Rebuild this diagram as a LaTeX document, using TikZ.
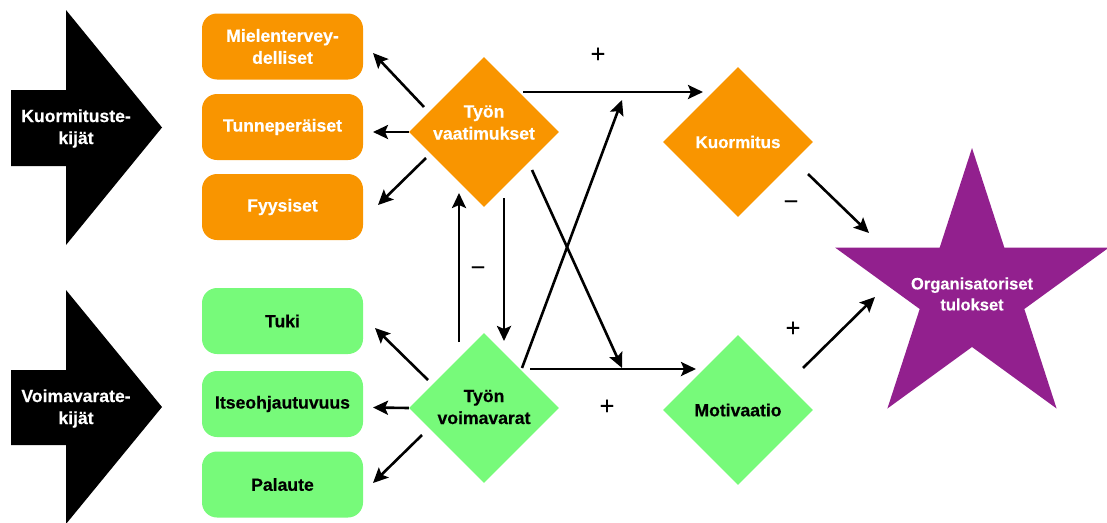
\documentclass[tikz,border=0pt]{standalone}
\usepackage{fontspec}
\setmainfont{Liberation Sans}[FakeBold=0.4]
\usetikzlibrary{arrows.meta,shapes.geometric}
\definecolor{dorange}{HTML}{F99500}
\definecolor{dgreen}{HTML}{77FA7A}
\definecolor{dpurple}{HTML}{92208E}
\begin{document}
\begin{tikzpicture}[x=1pt,y=-1pt,
  txt/.style={font=\fontsize{17.6}{22}\selectfont\bfseries, align=center, inner sep=0pt},
  box/.style={txt, rounded corners=15pt, minimum width=161pt, minimum height=66pt},
  obox/.style={box, fill=dorange, text=white},
  gbox/.style={box, fill=dgreen, text=black},
  dia/.style={diamond, minimum width=150pt, minimum height=150pt, inner sep=0pt},
  arr/.style={line width=2.6pt, -{Stealth[length=15pt,width=14pt,inset=3pt]}},
  sign/.style={font=\fontsize{25}{28}\selectfont, inner sep=0pt}]
\useasboundingbox (0,0) rectangle (1107,522);

% big input arrows
\fill[black] (11,90) -- (66,90) -- (66,10) -- (162,127.5) -- (66,245) -- (66,166) -- (11,166) -- cycle;
\node[txt, text=white] (kuormtekijat) at (76,128.5) {Kuormituste-\\kijät};
\fill[black] (11,370) -- (66,370) -- (66,290) -- (162,407) -- (66,524) -- (66,445) -- (11,445) -- cycle;
\node[txt, text=white] (voimtekijat) at (76,408.5) {Voimavarate-\\kijät};

% demand and resource categories
\node[obox] (mental) at (282.5,46.5) {Mielentervey-\\delliset};
\node[obox] (tunne) at (282.5,127) {Tunneperäiset};
\node[obox] (fyys) at (282.5,207) {Fyysiset};
\node[gbox] (tuki) at (282.5,321) {Tuki};
\node[gbox] (itse) at (282.5,404) {Itseohjautuvuus};
\node[gbox] (pal) at (282.5,484.5) {Palaute};

% diamonds
\node[dia, fill=dorange] (vaat) at (484,132) {};
\node[txt, text=white] (vaattxt) at (484,122.5) {Työn\\vaatimukset};
\node[dia, fill=dgreen] (voim) at (484,408) {};
\node[txt, text=black] (voimtxt) at (484,407) {Työn\\voimavarat};
\node[dia, fill=dorange] (kuorm) at (738,142) {};
\node[txt, text=white, font=\fontsize{17}{21}\selectfont\bfseries] (kuormtxt) at (738,142) {Kuormitus};
\node[dia, fill=dgreen] (motiv) at (738,410) {};
\node[txt, text=black] (motivtxt) at (738,410) {Motivaatio};

% outcome star
\fill[dpurple] (972,148) -- (1004.3,247.5) -- (1109,247.5) -- (1024.3,309) -- (1056.6,408.5)
  -- (972,347) -- (887.4,408.5) -- (919.7,309) -- (835,247.5) -- (939.7,247.5) -- cycle;
\node[txt, text=white, font=\fontsize{16.5}{21}\selectfont\bfseries] (tulos) at (972,294) {Organisatoriset\\tulokset};

% connector end points
\coordinate (m1) at (424,107);  \coordinate (m2) at (373,53);
\coordinate (t2) at (373,132);
\coordinate (f1) at (426,158);  \coordinate (f2) at (378,205);
\coordinate (k1) at (428,380);  \coordinate (k2) at (375,328);
\coordinate (i2) at (373,407.5);
\coordinate (p1) at (422,435);  \coordinate (p2) at (373,483);
\coordinate (u1) at (459,342);  \coordinate (u2) at (459,193);
\coordinate (d1) at (504,198);  \coordinate (d2) at (504,341);
\coordinate (h1) at (523,92);   \coordinate (h2) at (703,92);
\coordinate (g1) at (530,369);  \coordinate (g2) at (696,369);
\coordinate (x1) at (522,368);  \coordinate (x2) at (622,100);
\coordinate (y1) at (532,170);  \coordinate (y2) at (622,368);
\coordinate (s1) at (808,174);  \coordinate (s2) at (869,233);
\coordinate (r1) at (803,368);  \coordinate (r2) at (875,297);

% connectors
\draw[arr] (m1) -- (m2);
\draw[arr] (vaat.west) -- (t2);
\draw[arr] (f1) -- (f2);
\draw[arr] (k1) -- (k2);
\draw[arr] (voim.west) -- (i2);
\draw[arr] (p1) -- (p2);
\draw[arr] (u1) -- (u2);
\draw[arr] (d1) -- (d2);
\draw[arr] (h1) -- (h2);
\draw[arr] (g1) -- (g2);
\draw[arr] (x1) -- (x2);
\draw[arr] (y1) -- (y2);
\draw[arr] (s1) -- (s2);
\draw[arr] (r1) -- (r2);

% signs
\node[sign] (p-top) at (598,55) {+};
\node[sign] (m-mid) at (478,271) {−};
\node[sign] (p-bot) at (607,407) {+};
\node[sign] (m-out) at (791,205) {−};
\node[sign] (p-out) at (793,329) {+};
\end{tikzpicture}
\end{document}
